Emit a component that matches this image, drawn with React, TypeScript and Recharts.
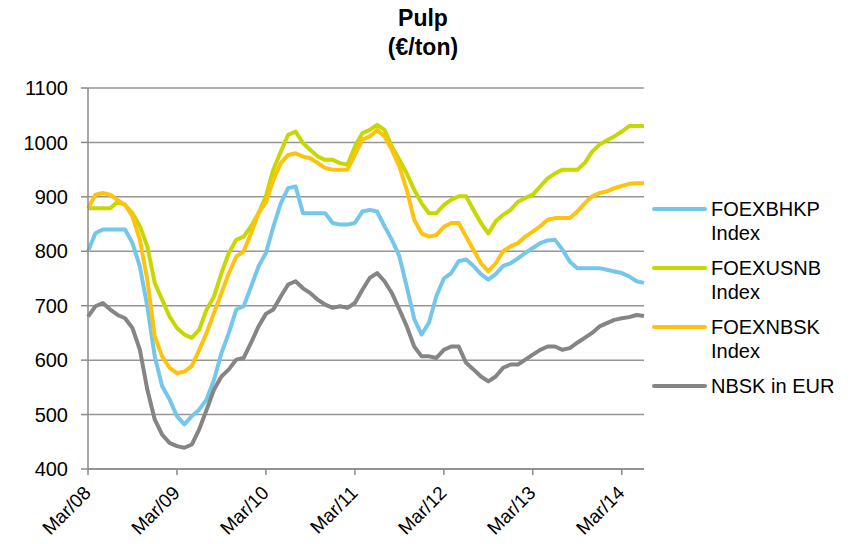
import { LineChart, Line, XAxis, YAxis, CartesianGrid } from 'recharts';

// monthly points, Mar/08 .. Jun/14
const monthNames = ['Jan', 'Feb', 'Mar', 'Apr', 'May', 'Jun', 'Jul', 'Aug', 'Sep', 'Oct', 'Nov', 'Dec'];
const months: string[] = [];
for (let k = 0; k < 76; k++) {
  const m = (2 + k) % 12;
  const yr = 8 + Math.floor((2 + k) / 12);
  months.push(`${monthNames[m]}/${String(yr).padStart(2, '0')}`);
}

const tickLabels = ['Mar/08', 'Mar/09', 'Mar/10', 'Mar/11', 'Mar/12', 'Mar/13', 'Mar/14'];
const yTicks = [400, 500, 600, 700, 800, 900, 1000, 1100];

const bhkp = [
  800, 833, 840, 840, 840, 840, 815, 772, 699, 607,
  552, 528, 497, 482, 497, 509, 528, 564, 613, 650, 693, 699,
  735, 772, 797, 845, 888, 916, 919, 870, 870, 870, 870, 852,
  849, 849, 852, 873, 876, 873, 846, 821, 791, 735, 676, 647,
  669, 718, 750, 760, 782, 785, 773, 758, 748, 758, 773, 778,
  787, 797, 806, 815, 820, 821, 803, 781, 769, 769, 769, 769,
  766, 763, 760, 754, 745, 742,
];

const usnb = [
  879, 879, 879, 879, 891, 885, 870, 846, 809, 742,
  711, 680, 659, 647, 641, 656, 693, 717, 760, 797, 821, 827,
  846, 870, 901, 950, 983, 1014, 1020, 999, 986, 974, 968, 968,
  962, 959, 992, 1017, 1023, 1032, 1023, 992, 968, 943, 913, 888,
  870, 870, 885, 895, 901, 901, 876, 852, 833, 855, 867, 876,
  891, 898, 904, 919, 934, 943, 950, 950, 950, 962, 983, 996,
  1004, 1011, 1020, 1030, 1030, 1030,
];

const nbskIdx = [
  879, 904, 907, 904, 894, 885, 864, 821, 748, 644,
  607, 586, 576, 579, 589, 619, 650, 687, 723, 760, 790, 800,
  833, 870, 890, 931, 962, 977, 980, 974, 971, 962, 953, 950,
  950, 950, 977, 1005, 1011, 1023, 1011, 986, 956, 913, 858, 833,
  827, 830, 845, 852, 852, 827, 803, 778, 763, 778, 800, 809,
  815, 827, 836, 846, 858, 861, 861, 861, 873, 888, 901, 907,
  910, 916, 920, 924, 925, 925,
];

const nbskEur = [
  680, 699, 705, 693, 683, 677, 659, 619, 546, 491,
  463, 448, 442, 439, 445, 473, 509, 546, 570, 583, 601, 604,
  632, 662, 685, 693, 717, 739, 745, 732, 723, 711, 702, 696,
  699, 696, 705, 729, 751, 760, 745, 723, 693, 662, 625, 607,
  607, 604, 619, 625, 625, 595, 583, 570, 561, 570, 586, 592,
  592, 601, 610, 619, 625, 625, 619, 622, 632, 641, 650, 662,
  668, 674, 677, 679, 683, 681,
];

const series = [
  { key: 'bhkp', lines: ['FOEXBHKP', 'Index'], color: '#74C7EA', values: bhkp },
  { key: 'usnb', lines: ['FOEXUSNB', 'Index'], color: '#C5D800', values: usnb },
  { key: 'nbsk', lines: ['FOEXNBSK', 'Index'], color: '#FFC20E', values: nbskIdx },
  { key: 'eur', lines: ['NBSK in EUR'], color: '#858585', values: nbskEur },
];

const data = months.map((m, i) => {
  const row: any = { month: m };
  series.forEach((s) => {
    row[s.key] = s.values[i];
  });
  return row;
});

const FONT = '"Liberation Sans", Arial, sans-serif';
const AXIS = '#8a8a8a';

const XTick = ({ x, y, payload }: any) => (
  <text
    x={x + 4}
    y={y + 17}
    textAnchor="end"
    fontSize={19}
    fontFamily={FONT}
    fill="#000"
    transform={`rotate(-45, ${x + 4}, ${y + 17})`}
  >
    {payload.value}
  </text>
);

const App = () => {
  return (
    <div style={{ position: 'absolute', left: 0, top: 0, width: 857, height: 544, background: '#fff', fontFamily: FONT }}>
      <div
        style={{
          position: 'absolute',
          left: 0,
          top: 4,
          width: 846,
          textAlign: 'center',
          fontWeight: 'bold',
          fontSize: 23,
          lineHeight: '29px',
          color: '#000',
        }}
      >
        <div>Pulp</div>
        <div>(€/ton)</div>
      </div>

      <LineChart
        width={857}
        height={544}
        data={data}
        margin={{ top: 88, right: 213, bottom: 15, left: 28 }}
      >
        <CartesianGrid vertical={false} stroke="#969696" strokeWidth={1.5} />
        <XAxis
          dataKey="month"
          ticks={tickLabels}
          interval={0}
          height={60}
          stroke={AXIS}
          strokeWidth={1.5}
          tickSize={6}
          tick={<XTick />}
        />
        <YAxis
          domain={[400, 1100]}
          ticks={yTicks}
          width={60}
          stroke={AXIS}
          strokeWidth={1.5}
          tickSize={7}
          tickMargin={13}
          tick={{ fontSize: 20, fill: '#000', fontFamily: FONT }}
        />
        {series.map((s) => (
          <Line
            key={s.key}
            type="linear"
            dataKey={s.key}
            stroke={s.color}
            strokeWidth={4}
            dot={false}
            strokeLinejoin="round"
            isAnimationActive={false}
          />
        ))}
      </LineChart>

      {series.map((s, i) => (
        <div key={s.key} style={{ position: 'absolute', left: 652, top: 197 + i * 59 }}>
          <div
            style={{
              position: 'absolute',
              left: 0,
              top: 9.5,
              width: 55,
              height: 4,
              borderRadius: 2,
              background: s.color,
            }}
          />
          <div style={{ position: 'absolute', left: 59, top: 0, fontSize: 20, lineHeight: '24px', color: '#000', whiteSpace: 'nowrap' }}>
            {s.lines.map((l) => (
              <div key={l}>{l}</div>
            ))}
          </div>
        </div>
      ))}
    </div>
  );
};

export default App;
